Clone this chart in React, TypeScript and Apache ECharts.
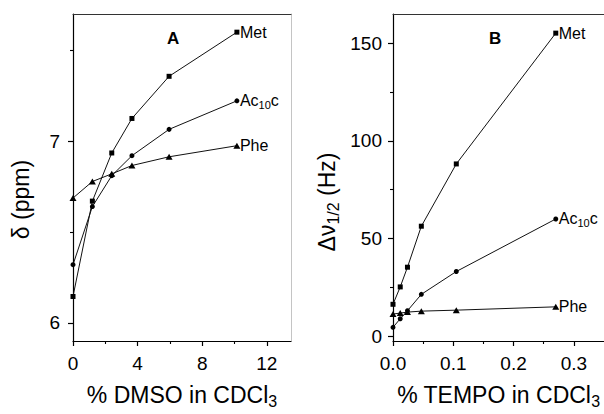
import React, { useEffect, useRef } from "react";
import * as echarts from "echarts";

// ---- Data ----
const dmsoPct = [0, 1.2, 2.4, 3.65, 5.95, 10.15];
const shiftMet = [6.145, 6.67, 6.935, 7.125, 7.357, 7.6];
const shiftAc10c = [6.32, 6.64, 6.81, 6.92, 7.065, 7.222];
const shiftPhe = [6.687, 6.778, 6.82, 6.866, 6.914, 6.975];

const tempoPct = [0, 0.012, 0.024, 0.047, 0.105, 0.27];
const widthMet = [16.3, 25.2, 35.3, 56.3, 88.2, 155.2];
const widthAc10c = [4.5, 8.9, 13.0, 21.4, 33.1, 60.0];
const widthPhe = [11.3, 11.8, 12.3, 12.8, 13.3, 15.0];

const aXMajor = [0, 4, 8, 12];
const aXMinor = [2, 6, 10];
const aYMajor = [6, 7];
const aYMinor = [6.5, 7.5];
const bXMajor = [0, 0.1, 0.2, 0.3];
const bXMinor = [0.05, 0.15, 0.25];
const bYMajor = [0, 50, 100, 150];
const bYMinor = [25, 75, 125];

const seriesNames = ["Met", "Ac10c", "Phe"];
const seriesLabels = ["{a|Met}", "{a|Ac}{s|10}{a|c}", "{a|Phe}"];

const FONT = '"Liberation Sans", Arial, Helvetica, sans-serif';
const BLACK = "#000";

function zip(xs: number[], ys: number[]) {
  return xs.map((x, i) => [x, ys[i]]);
}

const titleRich = {
  t: { fontSize: 23, lineHeight: 28, fontFamily: FONT, color: BLACK },
  s: { fontSize: 16, lineHeight: 14, fontFamily: FONT, color: BLACK, verticalAlign: "bottom" },
};

function mainAxis(
  grid: number,
  position: string,
  min: number,
  max: number,
  majors: number[],
  fmt: (v: number) => string,
  margin: number,
  extra: any
) {
  return {
    type: "value",
    gridIndex: grid,
    position,
    min,
    max,
    offset: 0,
    axisLine: { show: true, onZero: false, lineStyle: { color: BLACK, width: 1.2 } },
    axisTick: { show: true, inside: false, customValues: majors, length: 5, lineStyle: { color: BLACK, width: 1.2 } },
    axisLabel: {
      show: true,
      customValues: majors,
      margin,
      fontSize: 19,
      color: BLACK,
      fontFamily: FONT,
      formatter: (v: number) => fmt(v),
    },
    splitLine: { show: false },
    ...extra,
  };
}

function minorAxis(grid: number, position: string, min: number, max: number, minors: number[]) {
  return {
    type: "value",
    gridIndex: grid,
    position,
    min,
    max,
    offset: 0,
    axisLine: { show: false, onZero: false },
    axisTick: { show: true, inside: false, customValues: minors, length: 3, lineStyle: { color: BLACK, width: 1.1 } },
    axisLabel: { show: false },
    splitLine: { show: false },
  };
}

function borderAxis(grid: number, position: string, min: number, max: number, color: string) {
  return {
    type: "value",
    gridIndex: grid,
    position,
    min,
    max,
    offset: 0,
    axisLine: { show: true, onZero: false, lineStyle: { color, width: 1 } },
    axisTick: { show: false },
    axisLabel: { show: false },
    splitLine: { show: false },
  };
}

const symbols = ["rect", "circle", "triangle"];
const symbolSizes: any[] = [5, 5, [7, 6]];

function makeSeries(xs: number[], ysList: number[][], xIdx: number, yIdx: number) {
  return ysList.map((ys, i) => ({
    type: "line",
    name: seriesNames[i],
    xAxisIndex: xIdx,
    yAxisIndex: yIdx,
    data: zip(xs, ys),
    symbol: symbols[i],
    symbolSize: symbolSizes[i],
    showSymbol: true,
    itemStyle: { color: BLACK },
    lineStyle: { color: "#111", width: 1 },
    endLabel: {
      show: true,
      distance: 3,
      formatter: seriesLabels[i],
      color: BLACK,
      rich: {
        a: { fontSize: 16, lineHeight: 20, fontFamily: FONT, color: BLACK },
        s: { fontSize: 11, lineHeight: 10, fontFamily: FONT, color: BLACK, verticalAlign: "bottom" },
      },
    },
    z: 3,
  }));
}

export default function App() {
  const ref = useRef<HTMLDivElement>(null);

  useEffect(() => {
    if (!ref.current) return;
    const chart = echarts.init(ref.current, undefined, { renderer: "svg" });
    const option: any = {
      animation: false,
      backgroundColor: "#fff",
      textStyle: { fontFamily: FONT },
      grid: [
        { left: 73, top: 14, width: 218, height: 334, containLabel: false },
        { left: 393, top: 14, width: 216, height: 333, containLabel: false },
      ],
      xAxis: [
        mainAxis(0, "bottom", 0, 13.5, aXMajor, (v) => String(v), 13, {
          name: "{t|% DMSO in CDCl}{s|3}",
          nameLocation: "middle",
          nameGap: 40,
          nameTextStyle: { rich: titleRich },
        }),
        minorAxis(0, "bottom", 0, 13.5, aXMinor),
        borderAxis(0, "top", 0, 13.5, "#333"),
        mainAxis(1, "bottom", 0, 0.35, bXMajor, (v) => v.toFixed(1), 13, {
          name: "{t|% TEMPO in CDCl}{s|3}",
          nameLocation: "middle",
          nameGap: 40,
          nameTextStyle: { rich: titleRich },
        }),
        minorAxis(1, "bottom", 0, 0.35, bXMinor),
        borderAxis(1, "top", 0, 0.35, "#333"),
      ],
      yAxis: [
        mainAxis(0, "left", 5.9, 7.7, aYMajor, (v) => String(v), 13, {
          name: "{t|δ (ppm)}",
          nameLocation: "middle",
          nameRotate: 90,
          nameGap: 38,
          nameTextStyle: { rich: titleRich, padding: [0, 44, 0, 0] },
        }),
        minorAxis(0, "left", 5.9, 7.7, aYMinor),
        borderAxis(0, "right", 5.9, 7.7, "#c4c4c4"),
        mainAxis(1, "left", -2.5, 165, bYMajor, (v) => String(v), 11, {
          name: "{t|Δν}{s|1/2}{t| (Hz)}",
          nameLocation: "middle",
          nameRotate: 90,
          nameGap: 52,
          nameTextStyle: { rich: titleRich, padding: [0, 49, 0, 0] },
        }),
        minorAxis(1, "left", -2.5, 165, bYMinor),
      ],
      series: [
        ...makeSeries(dmsoPct, [shiftMet, shiftAc10c, shiftPhe], 0, 0),
        ...makeSeries(tempoPct, [widthMet, widthAc10c, widthPhe], 3, 3),
      ],
      graphic: [
        {
          type: "text",
          left: 167,
          top: 30,
          style: { text: "A", fontSize: 17, fontWeight: "bold", fontFamily: FONT, fill: BLACK },
        },
        {
          type: "text",
          left: 489,
          top: 30,
          style: { text: "B", fontSize: 17, fontWeight: "bold", fontFamily: FONT, fill: BLACK },
        },
      ],
    };
    chart.setOption(option);
    return () => {
      chart.dispose();
    };
  }, []);

  return (
    <div
      ref={ref}
      style={{ position: "fixed", left: 0, top: 0, width: 604, height: 414, background: "#fff" }}
    />
  );
}
